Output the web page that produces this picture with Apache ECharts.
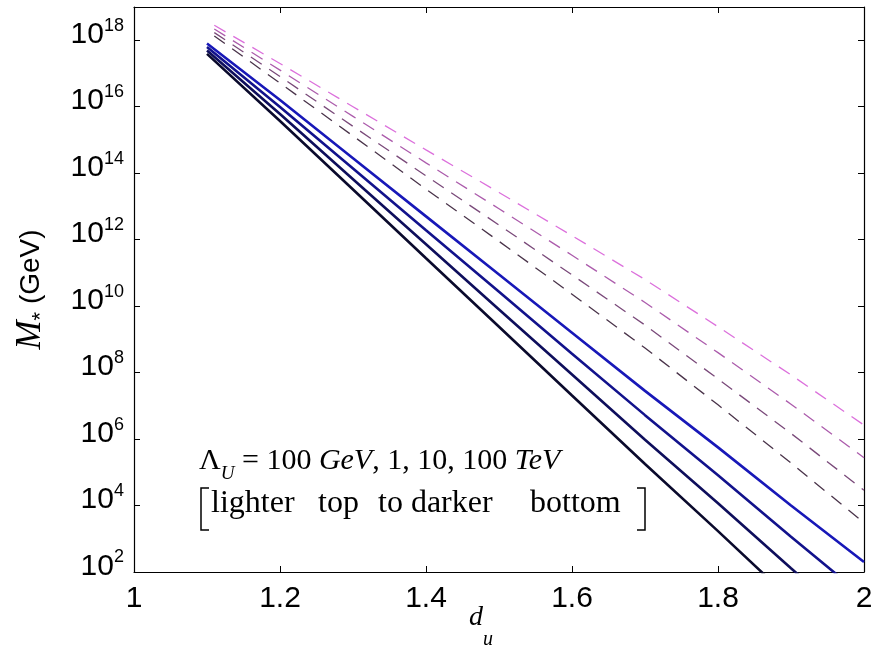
<!DOCTYPE html>
<html>
<head>
<meta charset="utf-8">
<script src="https://cdn.jsdelivr.net/npm/echarts@6/dist/echarts.min.js"></script>
<style>html,body{margin:0;padding:0;background:#fff}#main{width:875px;height:661px}</style>
</head>
<body>
<div id="main"></div>
<script>
// d_u sample points and log10(M_* / GeV)
var dSolid = [1.1, 1.2, 1.3, 1.4, 1.5, 1.6, 1.7, 1.8, 1.9, 2.0];
var solid100GeV = [17.90, 16.20, 14.45, 12.70, 10.95, 9.20, 7.45, 5.75, 4.00, 2.30];
var solid1TeV   = [17.80, 15.99, 14.14, 12.28, 10.43, 8.57, 6.72, 4.91, 3.06, 1.25];
var solid10TeV  = [17.69, 15.78, 13.82, 11.86, 9.90, 7.94, 5.98, 4.07, 2.11, 0.20];
var solid100TeV = [17.59, 15.57, 13.51, 11.44, 9.38, 7.31, 5.25, 3.23, 1.17, -0.85];

var dDash = [1.11, 1.2, 1.3, 1.4, 1.5, 1.6, 1.7, 1.8, 1.9, 2.0];
var dash100GeV = [18.45, 17.30, 16.00, 14.70, 13.42, 12.12, 10.80, 9.38, 7.93, 6.42];
var dash1TeV   = [18.34, 17.10, 15.71, 14.31, 12.93, 11.53, 10.11, 8.60, 7.05, 5.44];
var dash10TeV  = [18.23, 16.91, 15.41, 13.92, 12.44, 10.94, 9.43, 7.81, 6.17, 4.46];
var dash100TeV = [18.13, 16.71, 15.12, 13.52, 11.95, 10.36, 8.74, 7.03, 5.28, 3.48];

var xTicks = [1, 1.2, 1.4, 1.6, 1.8, 2];
var yExponents = [2, 4, 6, 8, 10, 12, 14, 16, 18];

var solidColors = ['#1818b8', '#12128c', '#0e0e5c', '#0a0a2c'];
var dashColors = ['#dc70dc', '#ac5cac', '#7a4a7a', '#4a344a'];

function pts(xs, logs){
  return xs.map(function(x, i){ return [x, Math.pow(10, logs[i])]; });
}

var sans = '"Liberation Sans", Arial, sans-serif';
var serif = '"Liberation Serif", "Times New Roman", serif';

var series = [];
[solid100GeV, solid1TeV, solid10TeV, solid100TeV].forEach(function(s, i){
  series.push({type:'line', data: pts(dSolid, s), symbol:'none', clip:true,
    lineStyle:{color: solidColors[i], width: 2.6}});
});
[dash100GeV, dash1TeV, dash10TeV, dash100TeV].forEach(function(s, i){
  series.push({type:'line', data: pts(dDash, s), symbol:'none', clip:true,
    lineStyle:{color: dashColors[i], width: 1.3, type:[13, 9]}});
});

var axisCommon = {
  axisLine:{show:true, lineStyle:{color:'#000', width:1.2}},
  axisTick:{show:true, inside:true, length:6, lineStyle:{color:'#000', width:1}},
  splitLine:{show:false}
};

var yLabelRich = {
  b:{fontSize:30, fontFamily:sans, color:'#000', lineHeight:18, verticalAlign:'bottom'},
  s:{fontSize:18, fontFamily:sans, color:'#000', lineHeight:33, verticalAlign:'top'}
};

function word(txt, x){
  return {type:'text', left:x, top:488, z:10, style:{text:txt, font:'32px ' + serif, fill:'#000'}};
}

var chart = echarts.init(document.getElementById('main'));
chart.setOption({
  animation:false,
  backgroundColor:'#fff',
  grid:{left:134, right:11, top:7, bottom:89, containLabel:false, outerBoundsMode:'none'},
  xAxis:[
    Object.assign({type:'value', min:1, max:2, interval:0.2, position:'bottom',
      axisLabel:{margin:12, fontSize:30, fontFamily:sans, color:'#000', lineHeight:30,
        formatter:function(v){
          var r = Math.round(v*10)/10;
          return xTicks.indexOf(r) >= 0 ? String(r) : '';
        }},
      name:'{d|d}{u|u}', nameLocation:'middle', nameGap:32, nameMoveOverlap:false,
      nameTextStyle:{padding:[0, 36, 0, 0], rich:{
        d:{fontSize:28, fontFamily:serif, fontStyle:'italic', color:'#000', lineHeight:28, verticalAlign:'top'},
        u:{fontSize:20, fontFamily:serif, fontStyle:'italic', color:'#000', lineHeight:46, verticalAlign:'bottom'}
      }}
    }, axisCommon),
    Object.assign({type:'value', min:1, max:2, interval:0.2, position:'top',
      axisLabel:{show:false}}, axisCommon)
  ],
  yAxis:[
    Object.assign({type:'log', logBase:10, min:1e2, max:1e19, interval:2, position:'left',
      axisLabel:{margin:10, verticalAlign:'middle', padding:[0, 0, 14, 0], rich:yLabelRich,
        formatter:function(v){
          var e = Math.round(Math.log(v)/Math.LN10);
          return yExponents.indexOf(e) >= 0 ? '{b|10}{s|' + e + '}' : '';
        }},
      name:'{m|M}{s|*}{g| (GeV)}', nameLocation:'middle', nameRotate:90, nameGap:82,
      nameTextStyle:{rich:{
        m:{fontSize:35, fontFamily:serif, fontStyle:'italic', color:'#000'},
        s:{fontSize:22, fontFamily:sans, color:'#000', verticalAlign:'bottom', lineHeight:42},
        g:{fontSize:28, fontFamily:sans, color:'#000'}
      }}
    }, axisCommon),
    Object.assign({type:'log', logBase:10, min:1e2, max:1e19, interval:2, position:'right',
      axisLabel:{show:false}}, axisCommon)
  ],
  graphic:[
    {type:'text', left:199, top:446, z:10, style:{
      text:'{L|Λ}{u|U}{t| = 100 }{i|GeV}{t|, 1, 10, 100 }{i|TeV}',
      rich:{
        L:{fontSize:30, fontFamily:serif, fill:'#000'},
        u:{fontSize:19, fontFamily:serif, fontStyle:'italic', fill:'#000', verticalAlign:'bottom', lineHeight:44},
        t:{fontSize:30, fontFamily:serif, fill:'#000'},
        i:{fontSize:30, fontFamily:serif, fontStyle:'italic', fill:'#000'}
      }}},
    word('lighter', 211), word('top', 318), word('to darker', 378), word('bottom', 530),
    {type:'polyline', z:10, shape:{points:[[209,488],[201,488],[201,530],[209,530]]},
      style:{stroke:'#000', lineWidth:1.5, fill:null}},
    {type:'polyline', z:10, shape:{points:[[637,488],[645,488],[645,530],[637,530]]},
      style:{stroke:'#000', lineWidth:1.5, fill:null}}
  ],
  series: series
});
</script>
</body>
</html>
